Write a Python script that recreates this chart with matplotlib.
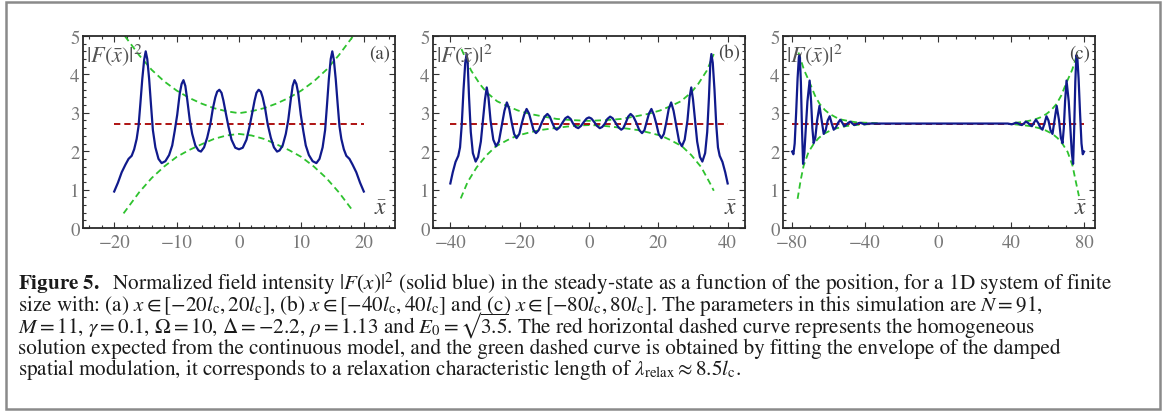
import matplotlib
matplotlib.use("Agg")
import matplotlib.pyplot as plt
from matplotlib.patches import Rectangle
from matplotlib.ticker import MultipleLocator

plt.rcParams['font.family'] = ['STIXGeneral', 'DejaVu Serif']
plt.rcParams['mathtext.fontset'] = 'stix'

# Barvy
BLUE = '#101a8c'
RED = '#a80000'
GREEN = '#2ec22e'
TICK_GRAY = '#777777'
HOMOGENEOUS = 2.72

# --- panel (a): x in [-20, 20] ---
a_x = [-20.0, -19.4, -18.8, -18.2, -17.7, -17.2, -16.8, -16.4, -16.1, -15.8, -15.5, -15.2, -14.95,
       -14.7, -14.4, -14.1, -13.8, -13.4, -12.9, -12.4, -11.8, -11.2, -10.7, -10.3, -9.9, -9.5,
       -9.2, -8.9, -8.6, -8.3, -7.9, -7.5, -7.0, -6.5, -6.1, -5.6, -5.1, -4.6, -4.2, -3.8, -3.5,
       -3.15, -2.8, -2.5, -2.1, -1.7, -1.2, -0.6, 0.0,
       0.6, 1.2, 1.7, 2.1, 2.5, 2.8, 3.15, 3.5, 3.8, 4.2, 4.6, 5.1, 5.6, 6.1, 6.5, 7.0, 7.5, 7.9,
       8.3, 8.6, 8.9, 9.2, 9.5, 9.9, 10.3, 10.7, 11.2, 11.8, 12.4, 12.9, 13.4, 13.8, 14.1, 14.4,
       14.7, 14.95, 15.2, 15.5, 15.8, 16.1, 16.4, 16.8, 17.2, 17.7, 18.2, 18.8, 19.4, 20.0]
a_F = [0.95, 1.18, 1.45, 1.65, 1.80, 1.88, 2.05, 2.32, 2.65, 3.25, 3.88, 4.38, 4.60,
       4.40, 3.88, 3.20, 2.55, 2.10, 1.80, 1.69, 1.74, 1.90, 2.15, 2.53, 2.95, 3.50,
       3.75, 3.85, 3.70, 3.35, 2.82, 2.45, 2.15, 2.02, 1.99, 2.10, 2.35, 2.70, 3.10, 3.40, 3.55,
       3.60, 3.52, 3.32, 2.98, 2.65, 2.30, 2.09, 2.05,
       2.09, 2.30, 2.65, 2.98, 3.32, 3.52, 3.60, 3.55, 3.40, 3.10, 2.70, 2.35, 2.10, 1.99, 2.02,
       2.15, 2.45, 2.82, 3.35, 3.70, 3.85, 3.75, 3.50, 2.95, 2.53, 2.15, 1.90, 1.74, 1.69, 1.80,
       2.10, 2.55, 3.20, 3.88, 4.40, 4.60, 4.38, 3.88, 3.25, 2.65, 2.32, 2.05, 1.88, 1.80, 1.65,
       1.45, 1.18, 0.95]
a_env_x = [-18.3, -16, -14, -12, -10, -8, -6, -4, -2, 0, 2, 4, 6, 8, 10, 12, 14, 16, 18.3]
a_env_hi = [5.0, 4.5, 4.12, 3.82, 3.58, 3.39, 3.24, 3.12, 3.04, 2.99, 3.04, 3.12, 3.24, 3.39,
            3.58, 3.82, 4.12, 4.5, 5.0]
a_env_lo_x = [-18.5, -16, -14, -12, -10, -8, -6, -4, -2, 0, 2, 4, 6, 8, 10, 12, 14, 16, 18.0]
a_env_lo = [0.38, 0.93, 1.30, 1.60, 1.85, 2.03, 2.18, 2.32, 2.41, 2.45, 2.41, 2.32, 2.18, 2.03,
            1.85, 1.60, 1.30, 0.93, 0.50]

# --- panel (b): x in [-40, 40] ---
b_x = [-40.0, -39.3, -38.5, -37.7, -37.2, -36.7, -36.2, -35.7, -35.3, -35.0, -34.6, -34.1, -33.5,
       -32.7, -32.0, -31.2, -30.6, -30.0, -29.5, -29.0, -28.4, -27.6, -26.8, -26.0, -25.2, -24.4,
       -23.7, -23.0, -22.3, -21.6, -20.9, -20.1, -19.4, -18.7, -18.0, -17.3, -16.6, -16.0, -15.3,
       -14.5, -13.6, -12.8, -12.0, -11.3, -10.6, -9.9, -9.3, -8.5, -7.6, -6.8, -6.1, -5.3, -4.6,
       -3.8, -3.1, -2.3, -1.5, -0.7, 0.0,
       0.7, 1.5, 2.3, 3.1, 3.8, 4.6, 5.3, 6.1, 6.8, 7.6, 8.5, 9.3, 9.9, 10.6, 11.3, 12.0, 12.8,
       13.6, 14.5, 15.3, 16.0, 16.6, 17.3, 18.0, 18.7, 19.4, 20.1, 20.9, 21.6, 22.3, 23.0, 23.7,
       24.4, 25.2, 26.0, 26.8, 27.6, 28.4, 29.0, 29.5, 30.0, 30.6, 31.2, 32.0, 32.7, 33.5, 34.1,
       34.6, 35.0, 35.3, 35.7, 36.2, 36.7, 37.2, 37.7, 38.5, 39.3, 40.0]
b_F = [1.16, 1.45, 1.72, 1.88, 2.10, 2.70, 3.60, 4.30, 4.53, 4.30, 3.40, 2.50, 1.95,
       1.73, 1.85, 2.25, 2.80, 3.35, 3.66, 3.40, 2.80, 2.30, 2.13, 2.25, 2.65, 3.05,
       3.27, 3.10, 2.75, 2.45, 2.34, 2.45, 2.72, 2.95, 3.10, 2.98, 2.75, 2.55, 2.47,
       2.55, 2.75, 2.90, 2.97, 2.90, 2.74, 2.60, 2.56, 2.62, 2.75, 2.86, 2.90, 2.84, 2.72,
       2.63, 2.60, 2.66, 2.76, 2.85, 2.88,
       2.85, 2.76, 2.66, 2.60, 2.63, 2.72, 2.84, 2.90, 2.86, 2.75, 2.62, 2.56, 2.60, 2.74, 2.90,
       2.97, 2.90, 2.75, 2.55, 2.47, 2.55, 2.75, 2.98, 3.10, 2.95, 2.72, 2.45, 2.34, 2.45, 2.75,
       3.10, 3.27, 3.05, 2.65, 2.25, 2.13, 2.30, 2.80, 3.40, 3.66, 3.35, 2.80, 2.25, 1.85, 1.73,
       1.95, 2.50, 3.40, 4.30, 4.53, 4.30, 3.60, 2.70, 2.10, 1.88, 1.72, 1.45, 1.16]
b_env_x = [-36.8, -34, -31.5, -29.5, -26.5, -23.7, -20.5, -17, -13, -9.3, -5, 0,
           5, 9.3, 13, 17, 20.5, 23.7, 26.5, 29.5, 31.5, 34, 36.0]
b_env_hi = [4.66, 4.10, 3.75, 3.53, 3.30, 3.18, 3.06, 2.97, 2.90, 2.84, 2.81, 2.79,
            2.81, 2.84, 2.90, 2.97, 3.06, 3.18, 3.30, 3.53, 3.75, 4.10, 4.53]
b_env_lo_x = [-37.0, -35, -32.4, -29.5, -26.8, -23.5, -20.9, -17.5, -14.1, -10, -6.4, -3, 0,
              3, 6.4, 10, 14.1, 17.5, 20.9, 23.5, 26.8, 29.5, 32.4, 35, 36.0]
b_env_lo = [0.77, 1.20, 1.58, 1.90, 2.13, 2.29, 2.40, 2.48, 2.55, 2.60, 2.64, 2.67, 2.68,
            2.67, 2.64, 2.60, 2.55, 2.48, 2.40, 2.29, 2.13, 1.90, 1.58, 1.15, 0.97]

# --- panel (c): x in [-80, 80] ---
c_x = [-80.0, -79.3, -78.6, -77.8, -77.0, -76.3, -75.8, -75.2, -74.6, -74.0, -73.3, -72.5, -71.6,
       -70.4, -69.6, -68.9, -68.2, -67.3, -66.3, -65.0, -63.8, -62.7, -61.6, -60.5, -59.4, -58.3,
       -57.2, -56.0, -54.8, -53.6, -52.5, -51.4, -50.3, -49.2, -48.1, -47.0, -45.9, -44.8, -43.7,
       -42.6, -41.5, -40.4, -39.3, -38.2, -20.0, 0.0, 20.0,
       38.2, 39.3, 40.4, 41.5, 42.6, 43.7, 44.8, 45.9, 47.0, 48.1, 49.2, 50.3, 51.4, 52.5, 53.6,
       54.8, 56.0, 57.2, 58.3, 59.4, 60.5, 61.6, 62.7, 63.8, 65.0, 66.3, 67.3, 68.2, 68.9, 69.6,
       70.4, 71.6, 72.5, 73.3, 74.0, 74.6, 75.2, 75.8, 76.3, 77.0, 77.8, 78.6, 79.3, 80.0]
c_F = [1.99, 1.92, 2.20, 3.00, 3.90, 4.45, 4.50, 3.80, 2.60, 1.67, 1.95, 2.60, 3.30,
       3.84, 3.30, 2.60, 2.21, 2.35, 2.80, 3.18, 2.80, 2.45, 2.55, 2.80, 2.91, 2.72,
       2.56, 2.62, 2.74, 2.82, 2.74, 2.65, 2.69, 2.74, 2.77, 2.72, 2.68, 2.70, 2.73,
       2.74, 2.72, 2.70, 2.71, 2.72, 2.72, 2.72, 2.72,
       2.72, 2.71, 2.70, 2.72, 2.74, 2.73, 2.70, 2.68, 2.72, 2.77, 2.74, 2.69, 2.65, 2.74, 2.82,
       2.74, 2.62, 2.56, 2.72, 2.91, 2.80, 2.55, 2.45, 2.80, 3.18, 2.80, 2.35, 2.21, 2.60, 3.30,
       3.84, 3.30, 2.60, 1.95, 1.67, 2.60, 3.80, 4.50, 4.45, 3.90, 3.00, 2.20, 1.92, 1.99]
c_env_x = [-76.5, -73.5, -70.4, -67.5, -64.9, -62, -59.4, -56, -52.7, -48.5, -44.5, -39, -33.5, -31]
c_env_hi = [4.57, 4.12, 3.79, 3.45, 3.23, 3.07, 2.97, 2.88, 2.82, 2.78, 2.75, 2.74, 2.73, 2.73]
c_env_lo_x = [-77.0, -75.3, -73.7, -71, -68.2, -65.5, -62.7, -59, -55.4, -51, -46.3, -40, -33.5, -31]
c_env_lo = [0.76, 1.25, 1.62, 1.98, 2.19, 2.34, 2.45, 2.54, 2.60, 2.65, 2.68, 2.70, 2.71, 2.71]
c_env_r_x = [42, 44.5, 48.5, 52.7, 56, 59.4, 62, 64.9, 67.5, 70.4, 73.5, 76.5]
c_env_r_hi = [2.74, 2.75, 2.78, 2.82, 2.88, 2.97, 3.07, 3.23, 3.45, 3.79, 4.12, 4.57]
c_env_r_lo_x = [42, 46.3, 51, 55.4, 59, 62.7, 65.5, 68.2, 71, 73.7, 75.3, 77.2]
c_env_r_lo = [2.70, 2.68, 2.65, 2.60, 2.54, 2.45, 2.34, 2.19, 1.98, 1.62, 1.25, 0.83]

CAPTION = [
    r"$\mathbf{Figure\ 5.}$  Normalized field intensity $|F(x)|^2$ (solid blue) in the steady-state "
    r"as a function of the position, for a 1D system of finite",
    r"size with: (a) $x \in [-20l_{\rm c}, 20l_{\rm c}]$, (b) $x \in [-40l_{\rm c}, 40l_{\rm c}]$ "
    r"and (c) $x \in [-80l_{\rm c}, 80l_{\rm c}]$. The parameters in this simulation are $N = 91$,",
    "$M = 11$, $\\gamma = 0.1$, $\\Omega = 10$, $\\Delta = -2.2$, $\\rho = 1.13$ and "
    "$E_0 = \u221a\\overline{3.5}$. The red horizontal dashed curve represents the homogeneous",
    r"solution expected from the continuous model, and the green dashed curve is obtained by "
    r"fitting the envelope of the damped",
    r"spatial modulation, it corresponds to a relaxation characteristic length of "
    r"$\lambda_{\rm relax} \approx 8.5l_{\rm c}$.",
]


def style_axes(ax, xlim, xticks, xminor, tag):
    ax.set_xlim(*xlim)
    ax.set_ylim(0, 5)
    ax.set_xticks(xticks)
    ax.set_yticks(range(6))
    ax.xaxis.set_minor_locator(MultipleLocator(xminor))
    ax.yaxis.set_minor_locator(MultipleLocator(0.2))
    ax.tick_params(which='both', direction='in', top=True, right=True, color='#333333',
                   labelcolor=TICK_GRAY, labelsize=13.5, width=0.8)
    ax.tick_params(which='major', length=4)
    ax.tick_params(which='minor', length=2)
    ax.tick_params(axis='x', pad=4.5)
    ax.tick_params(axis='y', pad=2.5)
    for s in ax.spines.values():
        s.set_color('#2a2a2a')
        s.set_linewidth(1.3)

    ax.text(0.01, 0.975, r'$|F(\bar{x})|^2$', transform=ax.transAxes, ha='left', va='top',
            fontsize=16, color='#555555')
    ax.text(0.985, 0.955, tag, transform=ax.transAxes, ha='right', va='top',
            fontsize=13.5, color='#444444')
    ax.text(0.975, 0.045, r'$\bar{x}$', transform=ax.transAxes, ha='right', va='bottom',
            fontsize=17, color='#444444')


def draw_panel(ax, x, F, envelopes, red_span):
    dash = (0, (3.5, 2.2))
    for ex, ey in envelopes:
        ax.plot(ex, ey, color=GREEN, lw=1.3, ls=dash)
    ax.plot(red_span, [HOMOGENEOUS, HOMOGENEOUS], color=RED, lw=1.3, ls=dash)
    ax.plot(x, F, color=BLUE, lw=1.6, solid_joinstyle='round')


def main():
    fig = plt.figure(figsize=(11.65, 4.14), dpi=100)
    W, H = 1165, 414

    # ramecek kolem cele figury
    fig.patches.append(Rectangle((6 / W, 1 - 410 / H), 1154 / W, 407 / H, transform=fig.transFigure,
                                 fill=False, edgecolor='#8a8a8a', lw=1.8))

    lefts = [83, 433, 783]
    axes = [fig.add_axes([l / W, 1 - 229 / H, 312 / W, 192 / H]) for l in lefts]

    draw_panel(axes[0], a_x, a_F, [(a_env_x, a_env_hi), (a_env_lo_x, a_env_lo)], [-20, 20])
    style_axes(axes[0], (-25, 25), [-20, -10, 0, 10, 20], 2, '(a)')

    draw_panel(axes[1], b_x, b_F, [(b_env_x, b_env_hi), (b_env_lo_x, b_env_lo)], [-40, 40])
    style_axes(axes[1], (-45, 45), [-40, -20, 0, 20, 40], 5, '(b)')

    draw_panel(axes[2], c_x, c_F, [(c_env_x, c_env_hi), (c_env_lo_x, c_env_lo),
                                   (c_env_r_x, c_env_r_hi), (c_env_r_lo_x, c_env_r_lo)], [-80, 80])
    style_axes(axes[2], (-85, 86), [-80, -40, 0, 40, 80], 10, '(c)')

    # popisek obrazku, zarovnano na uctari
    baselines = [290, 311.3, 332.6, 353.9, 375.2]
    for txt, y in zip(CAPTION, baselines):
        fig.text(18 / W, 1 - y / H, txt, ha='left', va='baseline', fontsize=15.2, color='#1a1a1a')

    fig.savefig('out.png', dpi=100)


if __name__ == "__main__":
    main()
